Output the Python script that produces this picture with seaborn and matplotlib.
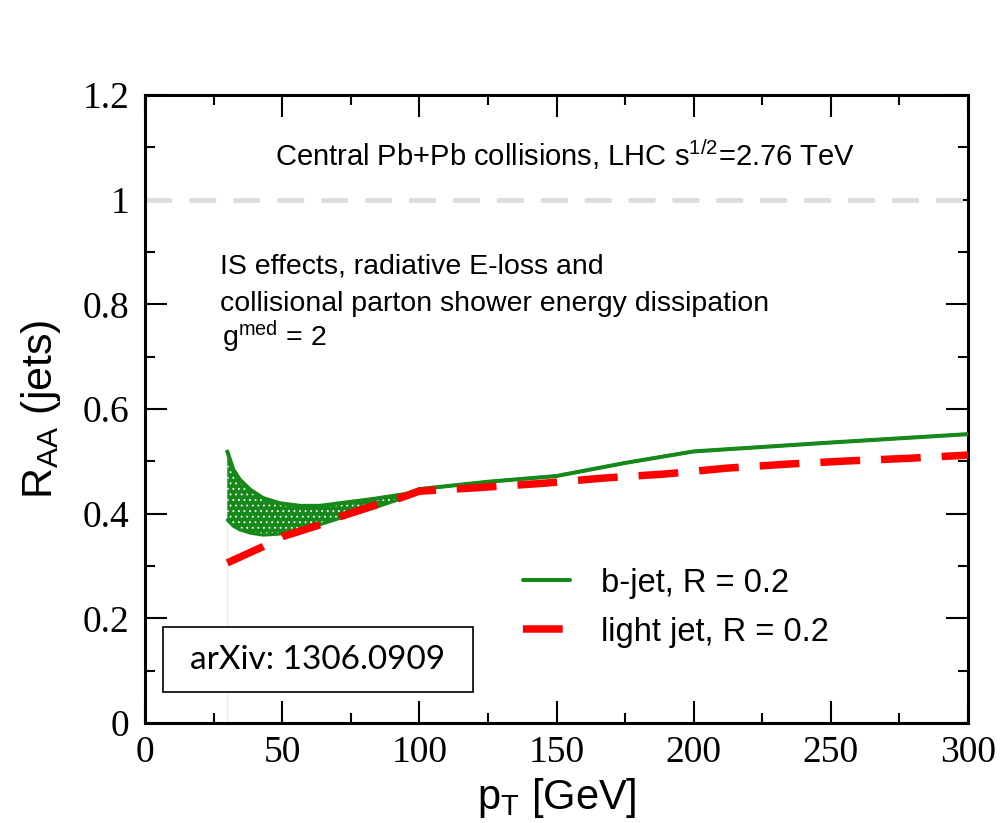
import numpy as np
import pandas as pd
import matplotlib
matplotlib.use("Agg")
import matplotlib.pyplot as plt
from matplotlib.patches import Rectangle
from matplotlib.ticker import MultipleLocator
import seaborn as sns

# ---- data ----
b_x = [30, 32.2, 34.6, 38.3, 43, 49, 56.5, 63.8, 71, 83, 95.4, 100, 125, 150, 175, 200, 250, 300]
b_upper = [0.519, 0.484, 0.465, 0.446, 0.430, 0.420, 0.415, 0.415, 0.420, 0.428, 0.438, 0.447,
           0.461, 0.472, 0.497, 0.519, 0.536, 0.552]
b_lower = [0.388, 0.376, 0.369, 0.363, 0.359, 0.361, 0.369, 0.379, 0.391, 0.410, 0.432, 0.447,
           0.461, 0.472, 0.497, 0.519, 0.536, 0.552]
light_x = [30, 43, 50, 64.5, 71, 86, 93, 100, 122, 145, 167, 190, 212, 235, 257, 279, 300]
light_y = [0.306, 0.337, 0.356, 0.380, 0.394, 0.420, 0.430, 0.443, 0.450, 0.458, 0.468, 0.476,
           0.487, 0.495, 0.501, 0.506, 0.512]
ref_level = 1.0
x_ticks = [0, 50, 100, 150, 200, 250, 300]
y_ticks = [0, 0.2, 0.4, 0.6, 0.8, 1.0, 1.2]
y_tick_labels = ["0", "0.2", "0.4", "0.6", "0.8", "1", "1.2"]
labels = ["b-jet, R = 0.2", "light jet, R = 0.2"]

GREEN = "#17891a"
RED = "#ff0000"

sns.set_theme(style="ticks")
plt.rcParams["font.family"] = ["Liberation Sans", "DejaVu Sans"]
plt.rcParams["mathtext.fontset"] = "custom"
plt.rcParams["mathtext.rm"] = "Liberation Sans"
plt.rcParams["mathtext.it"] = "Liberation Sans:italic"
plt.rcParams["hatch.linewidth"] = 0.6

fig = plt.figure(figsize=(10.02, 8.23), dpi=100)
ax = fig.add_axes([0.1447, 0.1215, 0.8214, 0.763])

# reference line
ax.axhline(ref_level, color="#dcdcdc", lw=3.4, linestyle=(0, (5.7, 3.6)), zorder=1)

# band
ax.fill_between(b_x, b_lower, b_upper, facecolor=GREEN, edgecolor="white",
                hatch="...", lw=0, zorder=2)
ax.vlines(b_x[0], 0, b_lower[0], color="#e6eee6", lw=1, zorder=1)

df_b = pd.DataFrame({"x": b_x, "up": b_upper, "lo": b_lower})
sns.lineplot(data=df_b, x="x", y="up", color=GREEN, lw=2.9, ax=ax,
             label=labels[0], zorder=3)
sns.lineplot(data=df_b, x="x", y="lo", color=GREEN, lw=2.2, ax=ax, zorder=3)

df_l = pd.DataFrame({"x": light_x, "y": light_y})
sns.lineplot(data=df_l, x="x", y="y", color=RED, lw=5.4, ax=ax,
             linestyle=(0, (5.3, 2.8)), label=labels[1], zorder=4,
             solid_capstyle="butt", dash_capstyle="butt")

ax.set_xlim(0, 300)
ax.set_ylim(0, 1.2)
ax.set_xticks(x_ticks)
ax.set_yticks(y_ticks)
ax.set_yticklabels(y_tick_labels)
ax.xaxis.set_minor_locator(MultipleLocator(25))
ax.yaxis.set_minor_locator(MultipleLocator(0.1))
ax.tick_params(which="both", direction="in", top=True, right=True, color="black", width=1.5)
ax.tick_params(which="major", length=16, labelsize=27, pad=9,
               labelfontfamily="Liberation Serif", labelcolor="black")
ax.tick_params(which="minor", length=7.5)
ax.tick_params(axis="y", which="major", pad=11)
for s in ax.spines.values():
    s.set_linewidth(2.2)
    s.set_color("black")
    s.set_visible(True)

ax.set_xlabel(r"p$_{\mathrm{T}}$ [GeV]", fontsize=30, labelpad=4, color="black")
ax.set_ylabel(r"R$_{\mathrm{AA}}$ (jets)", fontsize=31, labelpad=14, color="black")

ax.text(153, 1.086, r"Central Pb+Pb collisions, LHC s$^{1/2}$=2.76 TeV",
        ha="center", va="center", fontsize=21, color="black")
ax.text(27.3, 0.872, "IS effects, radiative E-loss and", ha="left", va="center",
        fontsize=20.5, color="black")
ax.text(27.3, 0.801, "collisional parton shower energy dissipation", ha="left",
        va="center", fontsize=20.5, color="black")
ax.text(28, 0.738, r"g$^{\mathrm{med}}$ = 2", ha="left", va="center", fontsize=20.5,
        color="black")

ax.add_patch(Rectangle((0.022, 0.049), 0.377, 0.104, transform=ax.transAxes,
                       facecolor="white", edgecolor="black", lw=1.2, zorder=5))
ax.text(0.21, 0.101, "arXiv: 1306.0909", transform=ax.transAxes, ha="center",
        va="center", fontsize=24, family=["Lato", "DejaVu Sans"], color="black", zorder=6)

leg = ax.legend(loc="upper left", bbox_to_anchor=(0.4435, 0.268), frameon=False,
                fontsize=23.5, handlelength=1.45, handletextpad=0.95, labelspacing=0.55,
                borderaxespad=0)
for t in leg.get_texts():
    t.set_color("black")

fig.savefig("out.png", dpi=100, facecolor="white")
